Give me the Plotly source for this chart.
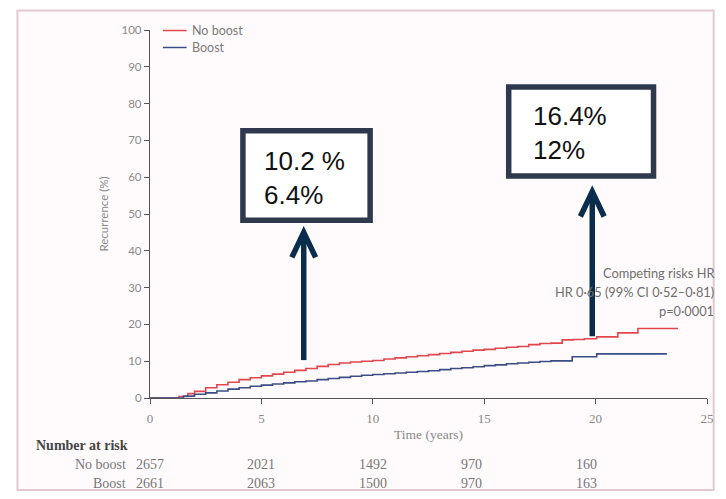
import plotly.graph_objects as go

# ---- data ----
no_boost_t = [0, 1.0, 1.3, 1.7, 2.0, 2.5, 3.0, 3.5, 4.0, 4.5, 5.0, 5.5, 6.0, 6.5, 7.0, 7.5, 8.0, 8.5, 9.0, 9.5,
              10.0, 10.5, 11.0, 11.5, 12.0, 12.5, 13.0, 13.5, 14.0, 14.5, 15.0, 15.5, 16.0, 16.5, 17.0, 17.5,
              18.0, 18.5, 19.0, 19.5, 20.05, 21.0, 21.9, 23.7]
no_boost_y = [0, 0, 0.4, 1.2, 1.8, 2.8, 3.6, 4.3, 5.0, 5.5, 6.0, 6.5, 7.0, 7.5, 8.0, 8.6, 9.1, 9.5, 9.8, 10.0,
              10.2, 10.6, 10.9, 11.2, 11.5, 11.8, 12.1, 12.4, 12.7, 13.0, 13.2, 13.5, 13.8, 14.0, 14.5, 14.8,
              14.9, 15.8, 15.9, 16.1, 16.6, 17.7, 18.9, 18.9]
boost_t = [0, 1.0, 1.5, 2.0, 2.5, 3.0, 3.5, 4.0, 4.5, 5.0, 5.5, 6.0, 6.5, 7.0, 7.5, 8.0, 8.5, 9.0, 9.5,
           10.0, 10.5, 11.0, 11.5, 12.0, 12.5, 13.0, 13.5, 14.0, 14.5, 15.0, 15.5, 16.0, 16.5, 17.0, 17.5,
           18.0, 18.95, 20.05, 23.2]
boost_y = [0, 0, 0.5, 1.0, 1.4, 1.9, 2.4, 2.8, 3.2, 3.5, 3.8, 4.1, 4.4, 4.6, 5.0, 5.3, 5.6, 5.9, 6.2,
           6.4, 6.6, 6.8, 7.0, 7.2, 7.4, 7.7, 8.0, 8.2, 8.5, 8.8, 9.0, 9.3, 9.5, 9.7, 9.9,
           10.1, 11.2, 12.0, 12.0]

x_ticks = [0, 5, 10, 15, 20, 25]
y_ticks = [0, 10, 20, 30, 40, 50, 60, 70, 80, 90, 100]

risk_times = [0, 5, 10, 15, 20]
risk_no_boost = [2657, 2021, 1492, 970, 160]
risk_boost = [2661, 2063, 1500, 970, 163]

box_labels = [["10.2 %", "6.4%"], ["16.4%", "12%"]]
hr_lines = ["Competing risks HR", "HR 0·65 (99% CI 0·52–0·81)", "p=0·0001"]

RED = "#e2474d"
BLUE = "#3c4d86"
GREY = "#7a7a7a"
ARROW = "#0b2d4d"
BOX = "#2e394d"

fig = go.Figure()
fig.add_trace(go.Scatter(x=no_boost_t, y=no_boost_y, mode="lines", line=dict(color=RED, width=1.6, shape="hv"),
                         name="No boost", showlegend=False))
fig.add_trace(go.Scatter(x=boost_t, y=boost_y, mode="lines", line=dict(color=BLUE, width=1.6, shape="hv"),
                         name="Boost", showlegend=False))

shapes = []
annotations = []

# outer faint frame
shapes.append(dict(type="rect", xref="paper", yref="paper", x0=-0.238, x1=1.012, y0=-0.25, y1=1.053,
                   line=dict(color="#e4c8d0", width=2), fillcolor="#fffbfc", layer="below"))

# legend (manual)
for i, (nm, col) in enumerate([("No boost", RED), ("Boost", BLUE)]):
    ypap = (398 - (30.5 + 17 * i)) / 368
    shapes.append(dict(type="line", xref="paper", yref="paper", x0=(163 - 150) / 563, x1=(187 - 150) / 563,
                       y0=ypap, y1=ypap, line=dict(color=col, width=1.5)))
    annotations.append(dict(xref="paper", yref="paper", x=(190 - 150) / 563, y=ypap, text=nm, showarrow=False,
                            xanchor="left", yanchor="middle", font=dict(family="Lato", size=12.5, color=GREY)))

# boxes with text
box_rects = [(4.17, 9.88, 48.3, 72.6), (16.1, 22.6, 60.3, 84.5)]
box_text_pos = [(5.02, 59.9), (17.1, 72.1)]
for (x0, x1, y0, y1), (tx, ty), lab in zip(box_rects, box_text_pos, box_labels):
    shapes.append(dict(type="rect", xref="x", yref="y", x0=x0, x1=x1, y0=y0, y1=y1,
                       line=dict(color=BOX, width=5.5), fillcolor="white", layer="above"))
    annotations.append(dict(xref="x", yref="y", x=tx, y=ty, text="<br>".join(lab), showarrow=False,
                            xanchor="left", yanchor="middle", align="left",
                            font=dict(family="Liberation Sans", size=26, color="#111111")))

# HR text
for i, line in enumerate(hr_lines):
    annotations.append(dict(xref="paper", yref="paper", x=(722 - 150) / 563, y=(398 - (272.5 + 19 * i)) / 368,
                            text=line, showarrow=False, xanchor="right", yanchor="middle",
                            font=dict(family="Lato", size=12.8, color="#6e6e6e")))

# arrows
arrows = [(6.9, 10.3, 45.0), (19.85, 16.8, 56.1)]
hw = 12 / 22.52
dh = 25 / 3.68
for ax, yb, yt in arrows:
    shapes.append(dict(type="line", xref="x", yref="y", x0=ax, x1=ax, y0=yb, y1=yt - 0.6,
                       line=dict(color=ARROW, width=5.5), layer="above"))
    shapes.append(dict(type="path", xref="x", yref="y",
                       path=f"M {ax - hw},{yt - dh} L {ax},{yt} L {ax + hw},{yt - dh}",
                       line=dict(color=ARROW, width=5.5), layer="above"))

# number at risk table
annotations.append(dict(xref="paper", yref="paper", x=(33 - 150) / 563, y=(398 - 446) / 368,
                        text="<b>Number at risk</b>", showarrow=False, xanchor="left", yanchor="middle",
                        font=dict(family="Liberation Serif", size=14, color="#444444")))
shifts = [0, 0, 0, -13, -9]
for row, (lab, vals) in enumerate([("No boost", risk_no_boost), ("Boost", risk_boost)]):
    ypap = (398 - (464 + 19 * row)) / 368
    annotations.append(dict(xref="paper", yref="paper", x=(128 - 150) / 563, y=ypap, text=lab,
                            showarrow=False, xanchor="right", yanchor="middle",
                            font=dict(family="Liberation Serif", size=14, color="#777777")))
    for j, (t, v) in enumerate(zip(risk_times, vals)):
        annotations.append(dict(xref="x", yref="paper", x=t, y=ypap, text=str(v), showarrow=False,
                                xanchor="center", xshift=shifts[j], yanchor="middle",
                                font=dict(family="Liberation Serif", size=14, color="#777777")))

fig.update_layout(
    width=726, height=499,
    margin=dict(l=150, r=13, t=30, b=101),
    paper_bgcolor="white", plot_bgcolor="rgba(0,0,0,0)",
    shapes=shapes, annotations=annotations,
    showlegend=False,
    xaxis=dict(range=[0, 25], tickvals=x_ticks, ticks="outside", ticklen=5, tickcolor="#555555",
               showline=True, linecolor="#555555", linewidth=1.3, showgrid=False, zeroline=False,
               ticklabelstandoff=3,
               tickfont=dict(family="Liberation Serif", size=13, color="#888888"),
               title=dict(text="Time (years)", standoff=4,
                          font=dict(family="Liberation Serif", size=13.5, color="#888888"))),
    yaxis=dict(range=[0, 100], tickvals=y_ticks, ticks="outside", ticklen=5, tickcolor="#555555",
               showline=True, linecolor="#555555", linewidth=1.3, showgrid=False, zeroline=False,
               tickfont=dict(family="Lato", size=11.5, color="#8a8a8a"),
               title=dict(text="Recurrence (%)", standoff=10,
                          font=dict(family="Lato", size=11.5, color="#8a8a8a"))),
)

fig.write_html("out.html")
